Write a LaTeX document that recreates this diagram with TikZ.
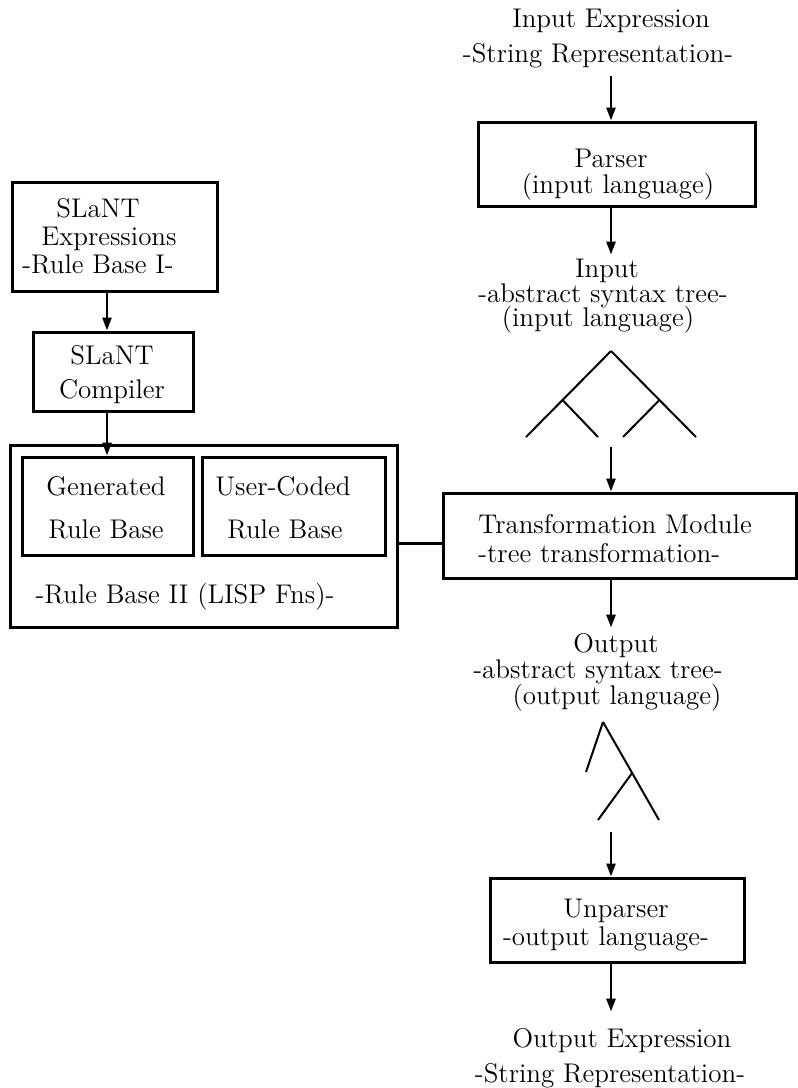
\documentclass[tikz,border=0pt]{standalone}
\usetikzlibrary{arrows.meta}
\begin{document}
\begin{tikzpicture}[x=0.5pt,y=-0.5pt,
  box/.style={draw,line width=1.5pt,inner sep=0pt},
  arr/.style={-{Triangle[length=6.5pt,width=4.5pt]},line width=1.3pt},
  branch/.style={line width=1pt},
  txt/.style={font=\fontsize{13.5}{14}\selectfont,align=center,anchor=base,inner sep=0pt}]
 \useasboundingbox (0,0) rectangle (798,1088);
 \coordinate (col) at (611,0);
 \coordinate (lcol) at (107,0);
 \coordinate (lnk) at (0,543);

 % Right column: parser
 \node[txt] (inexpr) at (598,62) {\hspace*{13pt}Input Expression\\[3.5pt]-String Representation-};
 \node[box,minimum width=138.5pt,minimum height=42pt] (parser) at (616.5,164) {};
 \node[txt] (parsertxt) at (618,193) {\hspace*{-7pt}Parser\\[-1pt](input language)};
 \node[txt] (intxt) at (603,326) {\hspace*{4pt}Input\\[-1.5pt]-abstract syntax tree-\\[-2pt]\hspace*{-5pt}(input language)};

 % input tree
 \draw[branch] (611,351) -- coordinate[pos=.57] (ib1) (526,437);
 \draw[branch] (611,351) -- coordinate[pos=.57] (ib2) (696,437);
 \draw[branch] (ib1) -- (598,437);
 \draw[branch] (ib2) -- (623,437);
 \coordinate (itree) at (611,447);

 % Transformation module
 \node[box,minimum width=176.5pt,minimum height=42.5pt] (transform) at (619.5,535.5) {};
 \node[txt,align=left,anchor=base west] (transtxt) at (478,562) {Transformation Module\\[0.5pt]-tree transformation-};
 \node[txt] (outtxt) at (598,704) {\hspace*{18pt}Output\\[-1pt]-abstract syntax tree-\\[-1pt]\hspace*{19pt}(output language)};

 % output tree
 \draw[branch] (603,722) -- (586,772);
 \draw[branch] (603,722) -- coordinate[pos=.52] (ob1) (659,820);
 \draw[branch] (ob1) -- (598,820);
 \coordinate (otree) at (611,832);

 % Unparser
 \node[box,minimum width=127pt,minimum height=42pt] (unparser) at (617,920) {};
 \node[txt] (unparsertxt) at (606,945) {\hspace*{10pt}Unparser\\-output language-};
 \node[txt] (outexpr) at (610,1082) {\hspace*{12pt}Output Expression\\[3.5pt]-String Representation-};

 % Left column: rule bases
 \node[box,minimum width=102.5pt,minimum height=54.5pt] (slexpr) at (114.5,236.5) {};
 \node[txt] (slexprtxt) at (98,273) {SLaNT\\\hspace*{11pt}Expressions\\-Rule Base I-};
 \node[box,minimum width=80pt,minimum height=39.5pt] (compiler) at (113,371.5) {};
 \node[txt] (compilertxt) at (112,398) {SLaNT\\[3pt]Compiler};
 \node[box,minimum width=193.5pt,minimum height=91pt] (rulebase) at (203.5,536) {};
 \node[box,minimum width=85.5pt,minimum height=49pt] (generated) at (107.5,506) {};
 \node[txt] (gentxt) at (106,538) {Generated\\[7.5pt]Rule Base};
 \node[box,minimum width=91.5pt,minimum height=49pt] (usercoded) at (293.5,506) {};
 \node[txt] (usertxt) at (283,538) {User-Coded\\[7.5pt]\hspace*{2pt}Rule Base};
 \node[txt] (rbtxt) at (185,603) {-Rule Base II (LISP Fns)-};

 % Connectors
 \draw[arr] ([yshift=-4pt]inexpr.south -| col) -- (parser.north -| col);
 \draw[arr] (parser.south -| col) -- ([yshift=1.8pt]intxt.north -| col);
 \draw[arr] (itree) -- (transform.north -| col);
 \draw[arr] (transform.south -| col) -- ([yshift=2.5pt]outtxt.north -| col);
 \draw[arr] (otree) -- (unparser.north -| col);
 \draw[arr] (unparser.south -| col) -- ([yshift=8pt]outexpr.north -| col);
 \draw[arr] (slexpr.south -| lcol) -- (compiler.north -| lcol);
 \draw[arr] (compiler.south -| lcol) -- (generated.north -| lcol);
 \draw[line width=1.5pt] (rulebase.east |- lnk) -- (transform.west |- lnk);
\end{tikzpicture}
\end{document}
